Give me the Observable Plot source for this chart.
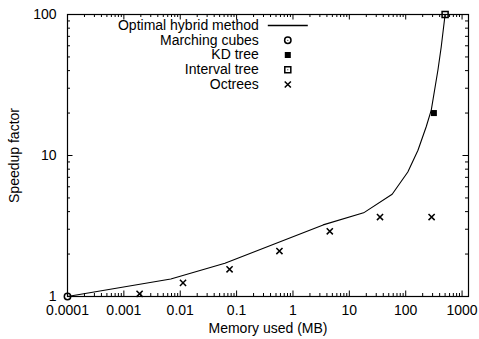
<!DOCTYPE html>
<html><head><meta charset="utf-8">
<script src="https://cdn.jsdelivr.net/npm/d3@7"></script>
<script src="https://cdn.jsdelivr.net/npm/@observablehq/plot@0.6"></script>
<style>body{margin:0;background:#fff}</style>
</head><body><div id="chart"></div>
<script>
// Optimal hybrid method (line)
const hybridX = [0.0001, 0.0068, 0.062, 3.43, 17.9, 57.5, 109, 165, 231, 284, 373, 427, 500];
const hybridY = [1, 1.33, 1.72, 3.22, 3.92, 5.31, 7.64, 10.9, 16.0, 21.0, 40.4, 59.1, 100];
// Marching cubes
const mcX = [0.0001];
const mcY = [1];
// KD tree
const kdX = [316];
const kdY = [20];
// Interval tree
const itX = [500];
const itY = [100];
// Octrees
const octX = [0.0019, 0.0112, 0.075, 0.575, 4.5, 35, 288];
const octY = [1.045, 1.25, 1.56, 2.10, 2.90, 3.66, 3.66];

const legendNames = ["Optimal hybrid method", "Marching cubes", "KD tree", "Interval tree", "Octrees"];
const xMajor = [0.0001, 0.001, 0.01, 0.1, 1, 10, 100, 1000];
const xTickLabels = ["0.0001", "0.001", "0.01", "0.1", "1", "10", "100", "1000"];
const yMajor = [1, 10, 100];
const yTickLabels = ["1", "10", "100"];
const xDomain = [0.0001, 1300];
const yDomain = [1, 100];

const W = 479, H = 339, mL = 67, mR = 11, mT = 14, mB = 43;
const pw = W - mL - mR, ph = H - mT - mB;
const majLen = 5.5, minLen = 3;

const xMinor = d3.scaleLog().domain(xDomain).ticks().filter(v => !xMajor.some(m => Math.abs(m - v) / m < 1e-9));
const yMinor = d3.scaleLog().domain(yDomain).ticks().filter(v => !yMajor.some(m => Math.abs(m - v) / m < 1e-9));

const pts = (xs, ys) => xs.map((x, i) => ({x, y: ys[i]}));
const hybrid = pts(hybridX, hybridY);
const mc = pts(mcX, mcY), kd = pts(kdX, kdY), it = pts(itX, itY), oct = pts(octX, octY);

const lineSym = {draw(ctx) { ctx.moveTo(-20, 0); ctx.lineTo(20, 0); }};
const dotSym = {draw(ctx) { ctx.moveTo(0.6, 0); ctx.arc(0, 0, 0.6, 0, 2 * Math.PI); }};

const tickMarks = (vals, len) => [
  Plot.tickX(vals, {x: d => d, insetTop: ph - len, stroke: "black"}),
  Plot.tickX(vals, {x: d => d, insetBottom: ph - len, stroke: "black"}),
];
const tickMarksY = (vals, len) => [
  Plot.tickY(vals, {y: d => d, insetRight: pw - len, stroke: "black"}),
  Plot.tickY(vals, {y: d => d, insetLeft: pw - len, stroke: "black"}),
];

const legX = 191.3, legSymX = 220.3, legY0 = 11, legDy = 14.75;
const legendMarks = [];
legendNames.forEach((name, i) => {
  legendMarks.push(Plot.text([name], {text: d => d, frameAnchor: "top-left", dx: legX, dy: legY0 + i * legDy, textAnchor: "end", lineAnchor: "middle", fill: "black"}));
});
const ly = i => legY0 + i * legDy;
legendMarks.push(
  Plot.dot([0], {frameAnchor: "top-left", dx: legSymX, dy: ly(0), symbol: lineSym, stroke: "black", fill: "none"}),
  Plot.dot([0], {frameAnchor: "top-left", dx: legSymX, dy: ly(1), symbol: "circle", r: 3.2, stroke: "black", fill: "none"}),
  Plot.dot([0], {frameAnchor: "top-left", dx: legSymX, dy: ly(1), symbol: dotSym, fill: "black", stroke: "none"}),
  Plot.dot([0], {frameAnchor: "top-left", dx: legSymX, dy: ly(2), symbol: "square", r: 3.4, fill: "black", stroke: "none"}),
  Plot.dot([0], {frameAnchor: "top-left", dx: legSymX, dy: ly(3), symbol: "square", r: 3.4, stroke: "black", fill: "none"}),
  Plot.dot([0], {frameAnchor: "top-left", dx: legSymX, dy: ly(3), symbol: dotSym, fill: "black", stroke: "none"}),
  Plot.dot([0], {frameAnchor: "top-left", dx: legSymX, dy: ly(4), symbol: "times", r: 2.9, stroke: "black", fill: "none"})
);

const chart = Plot.plot({
  width: W, height: H,
  marginLeft: mL, marginRight: mR, marginTop: mT, marginBottom: mB,
  style: {fontFamily: "'Liberation Sans', Arial, sans-serif", fontSize: "14px", color: "black", background: "white"},
  x: {type: "log", domain: xDomain, range: [mL, W - mR]},
  y: {type: "log", domain: yDomain, range: [H - mB, mT]},
  marks: [
    Plot.frame({stroke: "black", strokeWidth: 1.2}),
    ...tickMarks(xMajor, majLen), ...tickMarks(xMinor, minLen),
    ...tickMarksY(yMajor, majLen), ...tickMarksY(yMinor, minLen),
    Plot.axisX(xMajor, {anchor: "bottom", tickSize: 0, tickPadding: 9, tickFormat: d => xTickLabels[xMajor.indexOf(d)],
      label: "Memory used (MB)", labelAnchor: "center", labelArrow: "none", labelOffset: 36}),
    Plot.axisY(yMajor, {anchor: "left", tickSize: 0, tickPadding: 11, tickFormat: d => yTickLabels[yMajor.indexOf(d)],
      label: "Speedup factor", labelAnchor: "center", labelArrow: "none", labelOffset: 58}),
    Plot.line(hybrid, {x: "x", y: "y", stroke: "black", strokeWidth: 1.1}),
    Plot.dot(mc, {x: "x", y: "y", symbol: "circle", r: 3.2, stroke: "black", fill: "none"}),
    Plot.dot(mc, {x: "x", y: "y", symbol: dotSym, fill: "black", stroke: "none"}),
    Plot.dot(kd, {x: "x", y: "y", symbol: "square", r: 3.4, fill: "black", stroke: "none"}),
    Plot.dot(it, {x: "x", y: "y", symbol: "square", r: 3.4, stroke: "black", fill: "none"}),
    Plot.dot(it, {x: "x", y: "y", symbol: dotSym, fill: "black", stroke: "none"}),
    Plot.dot(oct, {x: "x", y: "y", symbol: "times", r: 2.9, stroke: "black", fill: "none"}),
    ...legendMarks
  ]
});
document.getElementById("chart").appendChild(chart);
</script>
</body></html>
